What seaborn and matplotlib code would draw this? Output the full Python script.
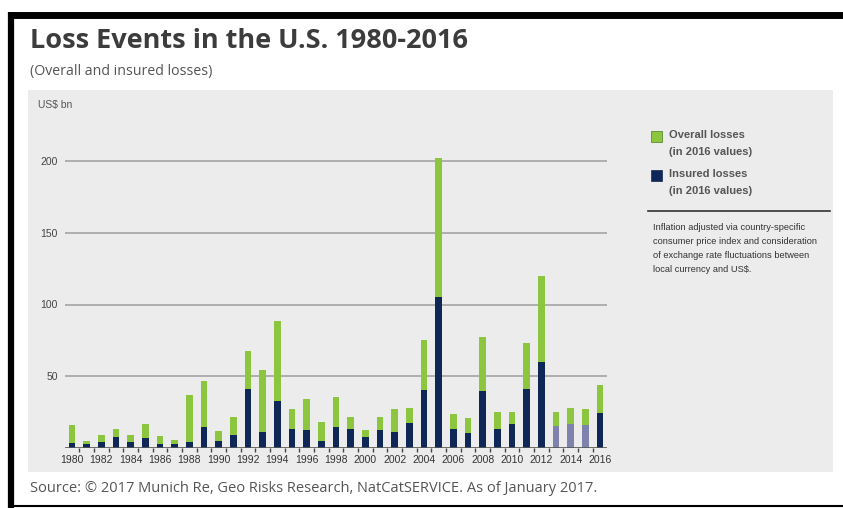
import numpy as np
import pandas as pd
import matplotlib.pyplot as plt
import matplotlib.patches as mpatches
import matplotlib.lines as mlines
import seaborn as sns

# Values (US$ bn, in 2016 values)
years = list(range(1980, 2017))
overall = [16.2, 5.3, 9.3, 13.4, 9.3, 16.9, 8.3, 6.0, 36.8, 47.0,
           11.8, 22.0, 67.8, 54.4, 88.7, 27.0, 34.3, 18.0, 35.4, 22.0,
           12.5, 21.5, 27.0, 27.8, 75.5, 201.9, 23.6, 20.8, 77.1, 25.2,
           25.2, 72.9, 119.7, 25.2, 27.8, 27.0, 43.7]
insured = [3.5, 2.8, 4.2, 7.9, 4.2, 7.4, 3.0, 2.8, 4.2, 15.0,
           5.3, 9.3, 41.2, 11.1, 32.6, 13.7, 12.7, 5.1, 15.0, 13.2,
           7.9, 12.7, 11.6, 17.8, 40.5, 104.9, 13.7, 10.4, 39.6, 13.4,
           16.9, 41.2, 59.7, 15.7, 17.1, 16.4, 24.5]
yticks = [50, 100, 150, 200]

green = '#8cc63f'
navy = '#0f2757'
faded = '#7f82ad'

W, H = 843, 508


def px(x, y):
    return x / W, 1 - y / H


df = pd.DataFrame({'year': [str(y) for y in years],
                   'overall': overall, 'insured': insured})
insured_colors = [faded if y in (2013, 2014, 2015) else navy for y in years]

fig = plt.figure(figsize=(W / 100, H / 100), dpi=100)
fig.patch.set_facecolor('white')

# grey panel and black frame
fig.patches.append(mpatches.Rectangle(px(28, 472), 805 / W, 382 / H,
                                      transform=fig.transFigure,
                                      facecolor='#ececec', edgecolor='none', zorder=0))
fig.lines.append(mlines.Line2D([11 / W, 11 / W], [1 - 12 / H, 0], transform=fig.transFigure,
                               color='black', lw=4.5, solid_capstyle='butt'))
fig.lines.append(mlines.Line2D([8 / W, 1], [1 - 14.5 / H, 1 - 14.5 / H],
                               transform=fig.transFigure, color='black', lw=5,
                               solid_capstyle='butt'))
fig.lines.append(mlines.Line2D([8 / W, 1], [1 - 506 / H, 1 - 506 / H],
                               transform=fig.transFigure, color='black', lw=1.5,
                               solid_capstyle='butt'))

ymax = 210
ppu = 1.438
left = 64.7
ax = fig.add_axes([left / W, (H - 448.3) / H, 542.7 / W, ymax * ppu / H])
ax.set_zorder(2)
ax.set_facecolor('none')

sns.barplot(data=df, x='year', y='overall', color=green, width=0.45,
            saturation=1, ax=ax, zorder=3)
sns.barplot(data=df, x='year', y='insured', hue='year', palette=insured_colors,
            legend=False, width=0.45, saturation=1, ax=ax, zorder=3)

ax.set_xlim(-0.5, len(years) - 0.5)
ax.set_ylim(0, ymax)
for v in yticks:
    ax.axhline(v, color='#9d9d9d', lw=1.1, zorder=1)
ax.axhline(0, color='#555555', lw=1.2, zorder=4)
for s in ax.spines.values():
    s.set_visible(False)

narrow = ['Liberation Sans Narrow', 'Liberation Sans']
ax.set_yticks(yticks)
ax.set_yticklabels([str(v) for v in yticks], fontsize=7.5, color='#444444',
                   family=narrow)
ax.tick_params(axis='y', length=0, pad=5)
ax.set_xticks(range(0, len(years), 2))
ax.set_xticklabels([str(y) for y in years[::2]], fontsize=7.5, color='#333333',
                   family=narrow)
ax.set_xticks(np.arange(0.5, len(years) - 1, 1), minor=True)
ax.tick_params(axis='x', which='major', length=0, pad=5)
ax.tick_params(axis='x', which='minor', length=3, color='#444444', width=1)
ax.set_xlabel('')
ax.set_ylabel('')

# titles
fig.text(*px(30, 41), 'Loss Events in the U.S. 1980-2016', fontsize=19.5,
         fontweight='bold', color='#3c3c3c', va='center', family='Open Sans')
fig.text(*px(30, 72), '(Overall and insured losses)', fontsize=10.2,
         color='#555555', va='center', family='Open Sans')
fig.text(*px(38, 105), 'US$ bn', fontsize=7.5, color='#555555', va='center',
         family=narrow)
fig.text(*px(30, 489), 'Source: \u00a9 2017 Munich Re, Geo Risks Research, NatCatSERVICE. As of January 2017.',
         fontsize=10.5, color='#555555', va='center', family='Open Sans')

# legend
fig.patches.append(mpatches.Rectangle(px(651, 141.5), 11 / W, 11 / H,
                                      transform=fig.transFigure, facecolor=green,
                                      edgecolor='#4a7a1a', lw=0.5))
fig.patches.append(mpatches.Rectangle(px(651, 180.5), 11 / W, 11 / H,
                                      transform=fig.transFigure, facecolor=navy,
                                      edgecolor=navy, lw=0.5))
fig.text(*px(669, 135), 'Overall losses', fontsize=8, fontweight='bold',
         color='#555555', va='center', family=narrow)
fig.text(*px(669, 152), '(in 2016 values)', fontsize=8, fontweight='bold',
         color='#555555', va='center', family=narrow)
fig.text(*px(669, 174), 'Insured losses', fontsize=8, fontweight='bold',
         color='#555555', va='center', family=narrow)
fig.text(*px(669, 191), '(in 2016 values)', fontsize=8, fontweight='bold',
         color='#555555', va='center', family=narrow)
fig.lines.append(mlines.Line2D([648 / W, 830 / W], [1 - 211 / H, 1 - 211 / H],
                               transform=fig.transFigure, color='#333333', lw=1.2))
note = ['Inflation adjusted via country-specific',
        'consumer price index and consideration',
        'of exchange rate fluctuations between',
        'local currency and US$.']
for i, line in enumerate(note):
    fig.text(*px(653, 227 + i * 14.3), line, fontsize=6.65, color='#333333',
             va='center', family=narrow)

fig.savefig('out.png', dpi=100)
